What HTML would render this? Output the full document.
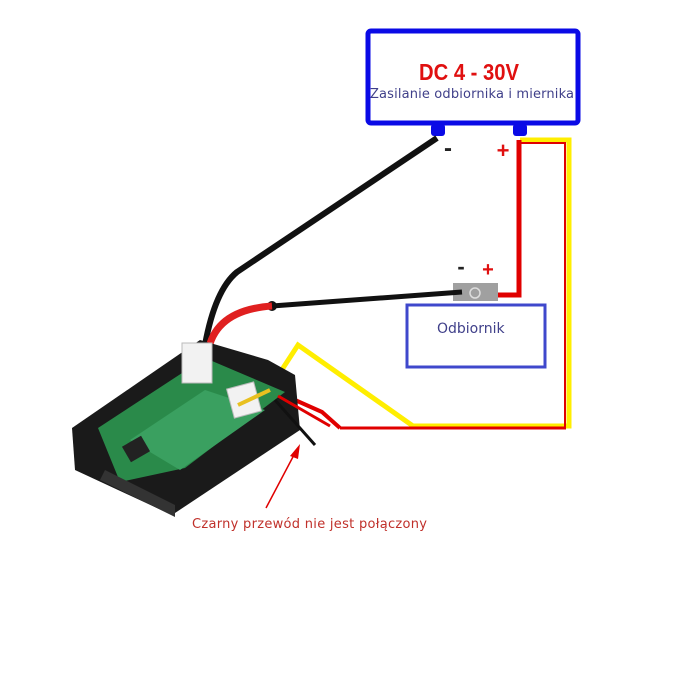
<!DOCTYPE html>
<html><head><style>body{margin:0;background:#fff}svg{display:block}</style></head><body>
<svg width="700" height="700" viewBox="0 0 700 700" xmlns="http://www.w3.org/2000/svg">
<rect width="700" height="700" fill="#fff"/>
<!-- top box -->
<rect x="368" y="31" width="210" height="92" rx="3" fill="#fff" stroke="#0a0ae6" stroke-width="5"/>
<rect x="431" y="124" width="14" height="12" rx="3" fill="#0a0ae6"/>
<rect x="513" y="124" width="14" height="12" rx="3" fill="#0a0ae6"/>
<g transform="translate(469,80) scale(0.92,1.05)">
<text x="0" y="0" text-anchor="middle" font-family="Liberation Sans Narrow, Liberation Sans, sans-serif" font-weight="bold" font-size="22" fill="#e01010">DC 4 - 30V</text>
</g>
<text x="472" y="98" text-anchor="middle" font-family="DejaVu Sans, sans-serif" font-size="13" textLength="204" fill="#40408a">Zasilanie odbiornika i miernika</text>
<text x="448" y="156" text-anchor="middle" font-family="Liberation Sans, sans-serif" font-weight="bold" font-size="24" fill="#222">-</text>
<text x="503" y="158" text-anchor="middle" font-family="Liberation Sans, sans-serif" font-weight="bold" font-size="22" fill="#e01010">+</text>
<!-- yellow/red loop -->
<polyline points="520,140 569,140 569,426 413,426 298,345 270,388 240,400" fill="none" stroke="#ffee00" stroke-width="5"/>
<polyline points="520,143 565,143 565,428" fill="none" stroke="#e00000" stroke-width="2"/>
<polyline points="340,428 566,428" fill="none" stroke="#e00000" stroke-width="3"/>
<polyline points="340,428 322,412 268,388" fill="none" stroke="#e00000" stroke-width="4"/>
<polyline points="519,140 519,295 485,295" fill="none" stroke="#e00000" stroke-width="5"/>
<!-- switch -->
<text x="461" y="274" text-anchor="middle" font-family="Liberation Sans, sans-serif" font-weight="bold" font-size="22" fill="#222">-</text>
<text x="488" y="276" text-anchor="middle" font-family="Liberation Sans, sans-serif" font-weight="bold" font-size="20" fill="#e01010">+</text>
<rect x="453" y="283" width="45" height="18" fill="#a0a0a0"/>
<circle cx="475" cy="293" r="5" fill="none" stroke="#ddd" stroke-width="1.5"/>
<!-- odbiornik -->
<rect x="407" y="305" width="138" height="62" fill="#fff" stroke="#3f48cc" stroke-width="3"/>
<text x="437" y="333" font-family="DejaVu Sans, sans-serif" font-size="14" fill="#40408a">Odbiornik</text>
<!-- black wires -->
<path d="M437,138 L237,272 Q215,290 205,345" fill="none" stroke="#111" stroke-width="6"/>
<line x1="272" y1="306" x2="462" y2="292" stroke="#111" stroke-width="5"/>
<circle cx="272" cy="306" r="5" fill="#111"/>
<path d="M272,306 Q215,310 208,352" fill="none" stroke="#e02020" stroke-width="7"/>
<!-- module -->
<polygon points="72,428 200,340 268,360 295,375 300,430 172,515 75,470" fill="#1a1a1a"/>
<polygon points="98,428 205,358 285,392 185,468 120,482" fill="#2a8a4a"/>
<polygon points="130,440 205,390 265,410 180,470" fill="#3aa060"/>
<rect x="125" y="440" width="22" height="18" fill="#222" transform="rotate(-30 136 449)"/>
<polygon points="105,470 175,505 175,517 100,480" fill="#333"/>
<rect x="182" y="343" width="30" height="40" fill="#f2f2f2" stroke="#bbb"/>
<rect x="230" y="385" width="28" height="30" fill="#f2f2f2" stroke="#bbb" transform="rotate(-15 244 400)"/>
<line x1="270" y1="390" x2="238" y2="405" stroke="#e8c020" stroke-width="4"/>
<line x1="275" y1="400" x2="315" y2="445" stroke="#111" stroke-width="3"/>
<line x1="278" y1="396" x2="330" y2="426" stroke="#e00000" stroke-width="3"/>
<!-- arrow -->
<line x1="266" y1="508" x2="295" y2="453" stroke="#e00000" stroke-width="1.5"/>
<polygon points="300,444 290,456 298,459" fill="#e00000"/>
<text x="192" y="528" font-family="DejaVu Sans, sans-serif" font-size="13" textLength="235" fill="#c0302a">Czarny przewód nie jest połączony</text>
</svg>
</body></html>
